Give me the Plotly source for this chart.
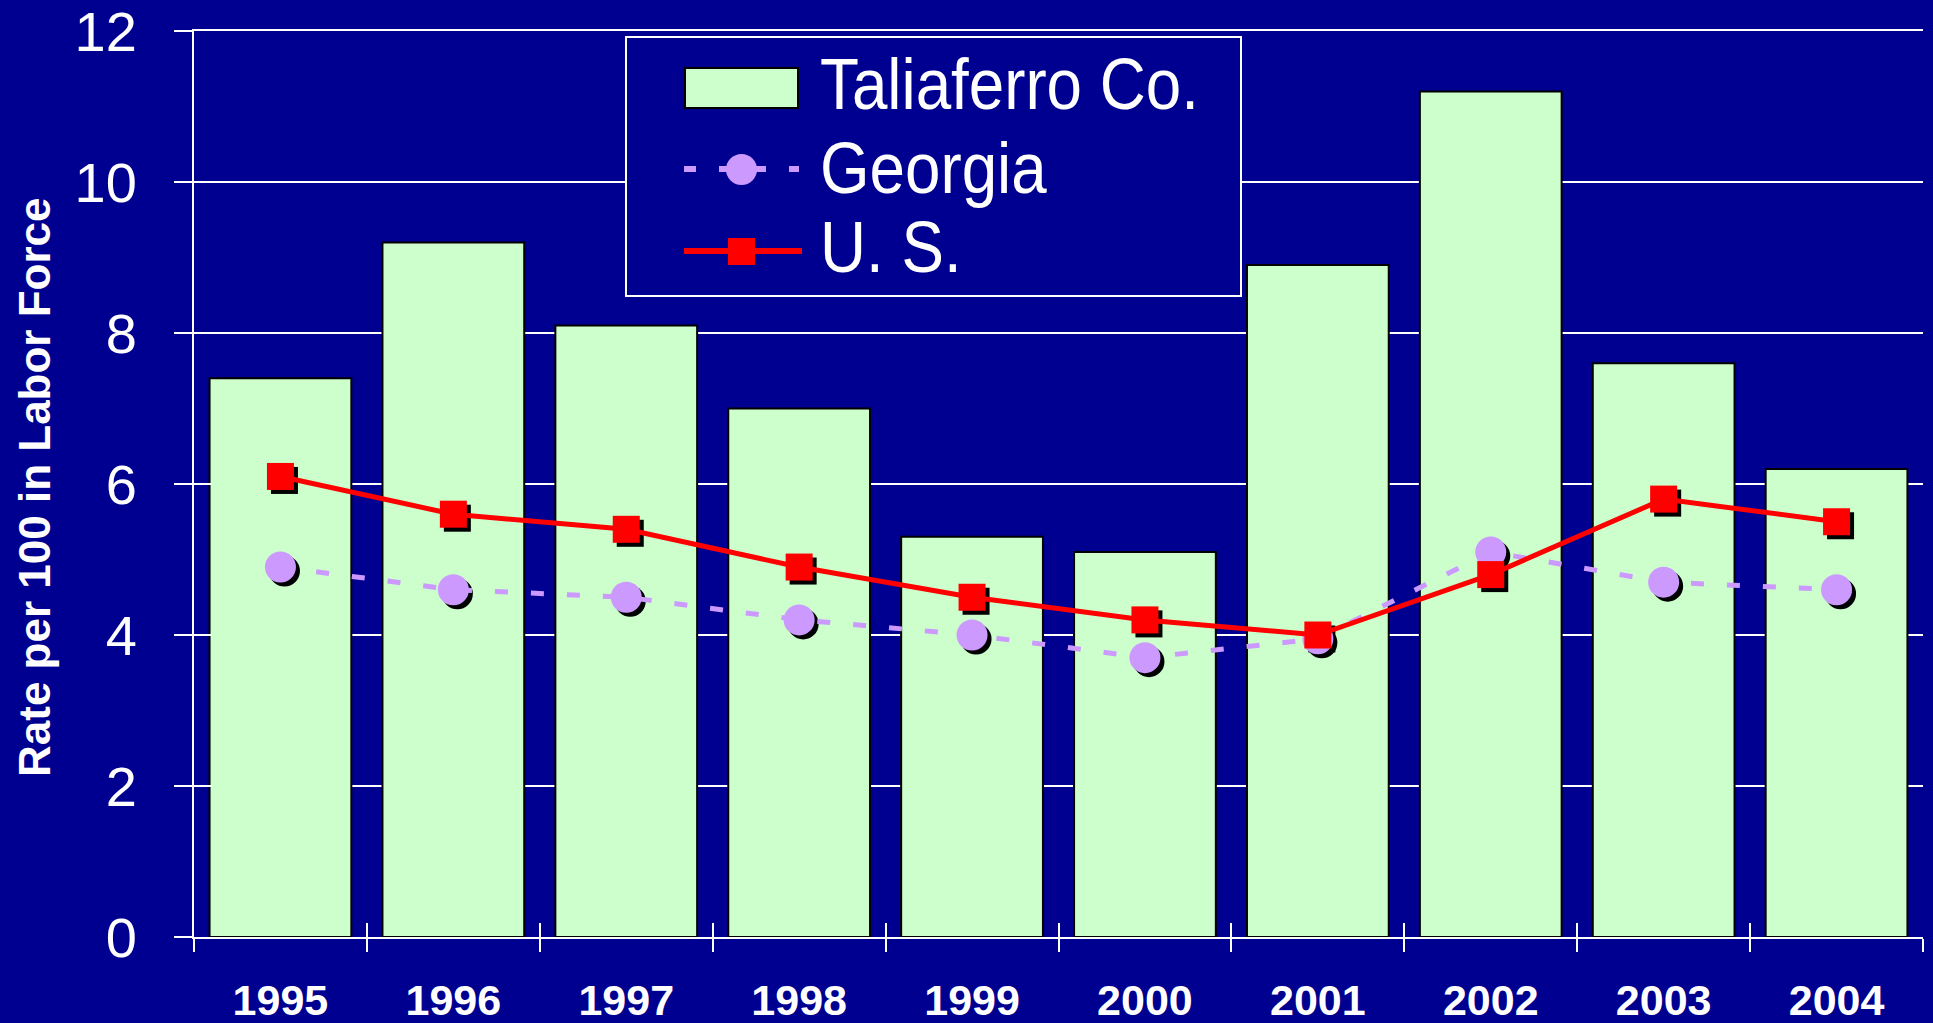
import plotly.graph_objects as go

years = ["1995", "1996", "1997", "1998", "1999", "2000", "2001", "2002", "2003", "2004"]
taliaferro = [7.4, 9.2, 8.1, 7.0, 5.3, 5.1, 8.9, 11.2, 7.6, 6.2]
georgia = [4.9, 4.6, 4.5, 4.2, 4.0, 3.7, 3.95, 5.1, 4.7, 4.6]
us = [6.1, 5.6, 5.4, 4.9, 4.5, 4.2, 4.0, 4.8, 5.8, 5.5]
series_names = ["Taliaferro Co.", "Georgia", "U. S."]
y_ticks = [0, 2, 4, 6, 8, 10, 12]
y_title = "Rate per 100 in Labor Force"

W, H = 1933, 1023
ML, MR, MT, MB = 194, 10, 31, 86
PW, PH = W - ML - MR, H - MT - MB

NAVY = "#000090"
BARFILL = "#CCFFCC"
LAV = "#CC99FF"
RED = "#FF0000"
WHITE = "#FFFFFF"

ARIAL = "Liberation Sans, Arial"

def px_x(px):
    return (px - ML) / PW

def px_y(py):
    return (H - MB - py) / PH

ymax = 12
xr = [-0.5, len(years) - 0.5]
# shadow offset in pixels -> data units
sdx = 4 * (xr[1] - xr[0]) / PW
sdy = 4 * ymax / PH

fig = go.Figure()

fig.add_trace(go.Bar(
    x=years, y=taliaferro, name=series_names[0], width=0.82,
    marker=dict(color=BARFILL, line=dict(color="black", width=2)),
    xaxis="x", yaxis="y", showlegend=False,
))

# marker shadows (overlay axis shifted by a few pixels)
fig.add_trace(go.Scatter(
    x=years, y=georgia, mode="markers", xaxis="x2", yaxis="y2",
    marker=dict(symbol="circle", size=31, color="black"), showlegend=False,
))
fig.add_trace(go.Scatter(
    x=years, y=us, mode="markers", xaxis="x2", yaxis="y2",
    marker=dict(symbol="square", size=27, color="black"), showlegend=False,
))

fig.add_trace(go.Scatter(
    x=years, y=georgia, mode="lines+markers", name=series_names[1],
    xaxis="x3", yaxis="y3",
    line=dict(color=LAV, width=5, dash="13px,23px"),
    marker=dict(symbol="circle", size=31, color=LAV), showlegend=False,
))
fig.add_trace(go.Scatter(
    x=years, y=us, mode="lines+markers", name=series_names[2],
    xaxis="x3", yaxis="y3",
    line=dict(color=RED, width=5),
    marker=dict(symbol="square", size=27, color=RED), showlegend=False,
))

common_hidden = dict(showgrid=False, zeroline=False, showticklabels=False,
                     showline=False, automargin=False)

fig.update_layout(
    width=W, height=H,
    margin=dict(l=ML, r=MR, t=MT, b=MB, autoexpand=False),
    paper_bgcolor=NAVY, plot_bgcolor=NAVY,
    xaxis=dict(
        type="category", categoryorder="array", categoryarray=years, range=xr,
        tickson="boundaries", ticks="outside", ticklen=13, tickwidth=2, tickcolor=WHITE,
        showline=True, linecolor=WHITE, linewidth=2, mirror=True,
        showgrid=False, zeroline=False, automargin=False,
        tickfont=dict(family=ARIAL, size=43, color=WHITE, weight="bold"),
        ticklabelstandoff=24, ticklabeloverflow="allow",
    ),
    yaxis=dict(
        range=[0, ymax], tickvals=y_ticks, ticktext=[str(v) for v in y_ticks],
        ticks="outside", ticklen=18, tickwidth=2, tickcolor=WHITE,
        showline=True, linecolor=WHITE, linewidth=2,
        showgrid=True, gridcolor=WHITE, gridwidth=2, zeroline=False,
        automargin=False,
        tickfont=dict(family=ARIAL, size=56, color=WHITE),
        ticklabelstandoff=26, ticklabeloverflow="allow",
    ),
    xaxis2=dict(type="category", categoryorder="array", categoryarray=years,
                range=[xr[0] - sdx, xr[1] - sdx], overlaying="x", anchor="y2",
                ticks="", **common_hidden),
    yaxis2=dict(range=[sdy, ymax + sdy], overlaying="y", anchor="x2",
                ticks="", **common_hidden),
    xaxis3=dict(type="category", categoryorder="array", categoryarray=years,
                range=xr, overlaying="x", anchor="y3", side="bottom",
                tickson="boundaries", ticks="inside", ticklen=14, tickwidth=2, tickcolor=WHITE,
                **common_hidden),
    yaxis3=dict(range=[0, ymax], overlaying="y", anchor="x3", tickvals=y_ticks,
                ticks="inside", ticklen=18, tickwidth=2, tickcolor=WHITE,
                **common_hidden),
)

# y-axis title
fig.add_annotation(
    text=y_title, xref="paper", yref="paper", x=px_x(34), y=px_y(487),
    xanchor="center", yanchor="middle", textangle=-90, showarrow=False,
    font=dict(family=ARIAL, size=44, color=WHITE, weight="bold"),
)

# custom legend (matches the large legend keys of the original)
shapes = []
shapes.append(dict(type="rect", xref="paper", yref="paper",
                   x0=px_x(626), x1=px_x(1241), y0=px_y(296), y1=px_y(37),
                   line=dict(color=WHITE, width=2), fillcolor=NAVY, layer="above"))
# bar key
shapes.append(dict(type="rect", xref="paper", yref="paper",
                   x0=px_x(685), x1=px_x(798), y0=px_y(108), y1=px_y(68),
                   line=dict(color="black", width=2), fillcolor=BARFILL, layer="above"))
# georgia key
shapes.append(dict(type="line", xref="paper", yref="paper",
                   x0=px_x(684), x1=px_x(799), y0=px_y(169), y1=px_y(169),
                   line=dict(color=LAV, width=6, dash="12px,23px"), layer="above"))
shapes.append(dict(type="circle", xref="paper", yref="paper",
                   x0=px_x(726), x1=px_x(757), y0=px_y(185), y1=px_y(154),
                   line=dict(width=0), fillcolor=LAV, layer="above"))
# us key
shapes.append(dict(type="line", xref="paper", yref="paper",
                   x0=px_x(684), x1=px_x(802), y0=px_y(251), y1=px_y(251),
                   line=dict(color=RED, width=6), layer="above"))
shapes.append(dict(type="rect", xref="paper", yref="paper",
                   x0=px_x(728), x1=px_x(755), y0=px_y(265), y1=px_y(238),
                   line=dict(width=0), fillcolor=RED, layer="above"))
fig.update_layout(shapes=shapes)

row_y = [84, 168, 247]
for name, ry in zip(series_names, row_y):
    fig.add_annotation(
        text=name, xref="paper", yref="paper", x=px_x(818), y=px_y(ry),
        xanchor="left", yanchor="middle", showarrow=False,
        font=dict(family=ARIAL, size=72, color=WHITE),
    )

# page without body margin; legend text condensed horizontally (narrow face)
post = """
document.body.style.margin = '0';
var gd = document.getElementById('{plot_id}');
[1, 2, 3].forEach(function(i) {
  var g = gd.querySelector('g.annotation[data-index="' + i + '"]');
  if (!g) return;
  var t = g.querySelector('text');
  if (!t) return;
  var bb = t.getBBox();
  var x0 = bb.x;
  var prev = t.getAttribute('transform') || '';
  t.setAttribute('transform', prev + ' translate(' + x0 + ',0) scale(0.885,1) translate(' + (-x0) + ',0)');
});
"""

fig.write_html("out.html", post_script=post, config={"displayModeBar": False})
